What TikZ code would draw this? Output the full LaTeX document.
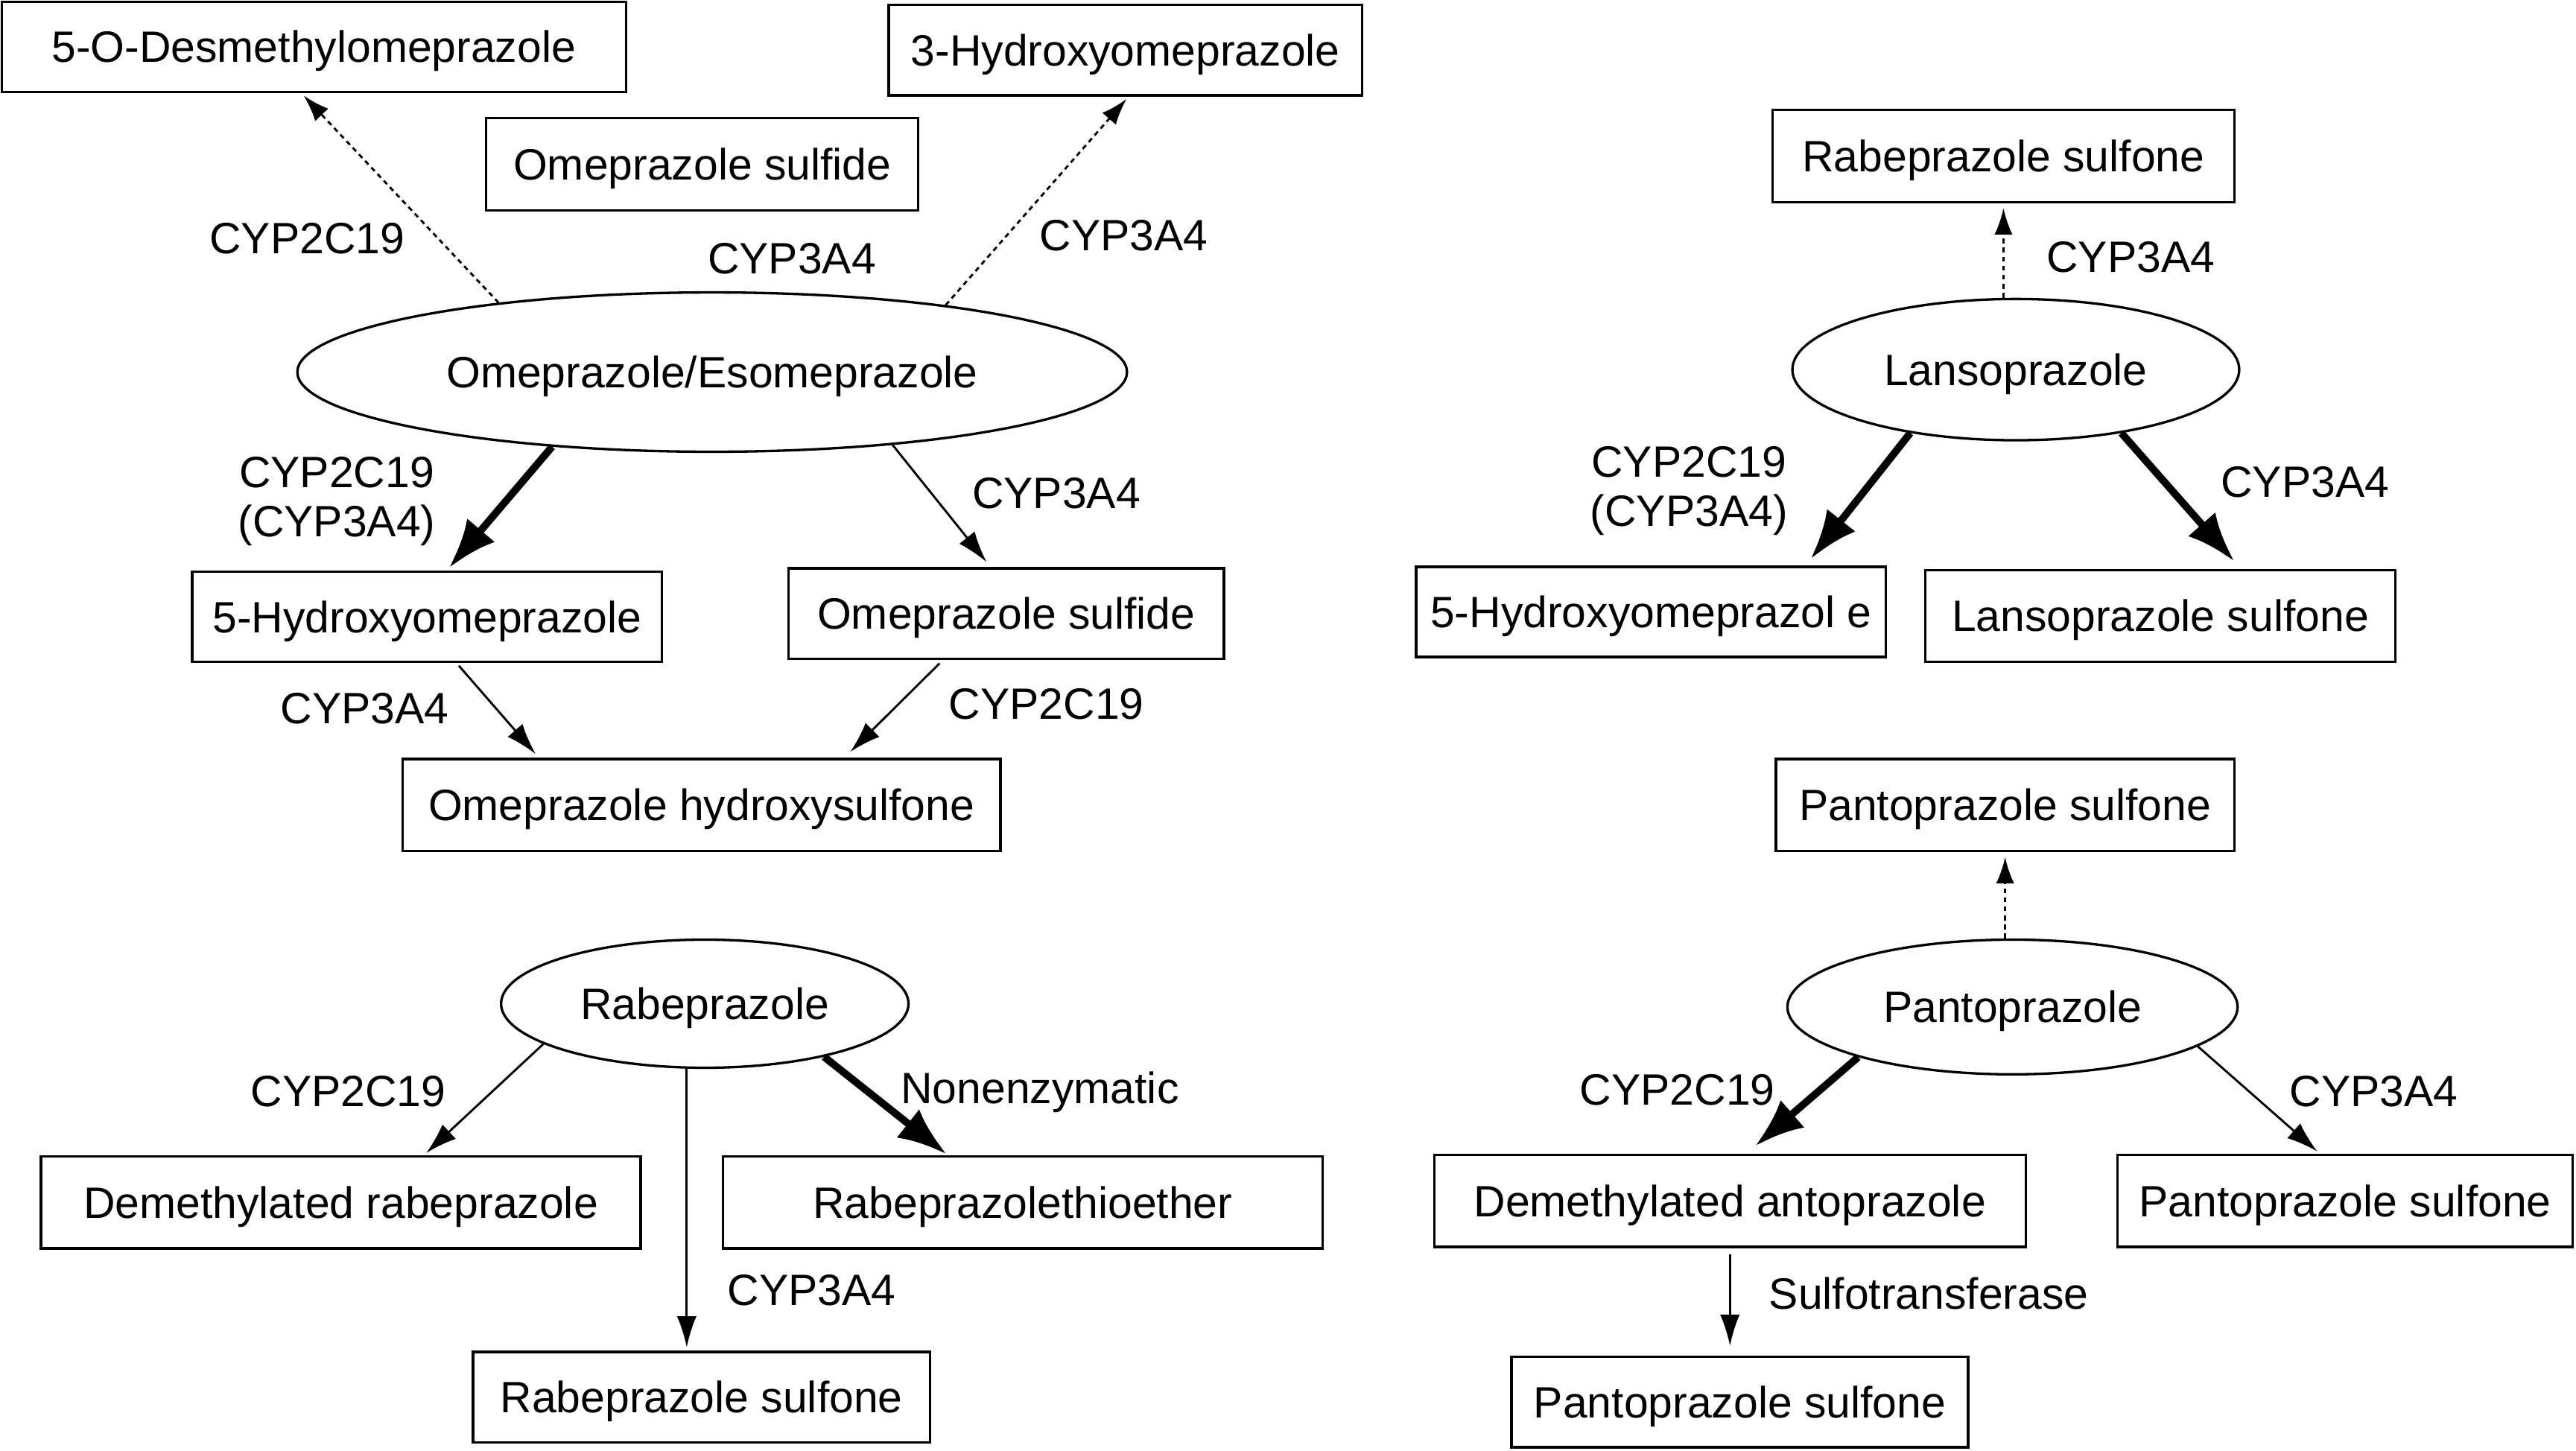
\documentclass[tikz,border=0pt]{standalone}
\usepackage{fontspec}
\setmainfont{Liberation Sans}
\usetikzlibrary{arrows.meta,shapes.geometric,calc}
\begin{document}
\begin{tikzpicture}[x=1pt,y=-1pt,
  box/.style={draw,line width=1.5pt,inner sep=0pt,minimum height=55pt,text height=19pt,text depth=0pt},
  oval/.style={draw,ellipse,line width=1.5pt,inner sep=0pt,text height=19pt,text depth=0pt},
  lbl/.style={inner sep=0pt,align=center},
  thinarr/.style={line width=1.3pt,-{Latex[length=19pt,width=12pt]}},
  thickarr/.style={line width=4.5pt,-{Latex[length=30pt,width=22pt]}},
  dotarr/.style={line width=1.3pt,dash pattern=on 3pt off 2.5pt,-{Latex[length=16pt,width=11pt]}},
  font=\fontsize{26.7}{30}\selectfont]
\useasboundingbox[fill=white] (0,0) rectangle (1568,883);

% ---- Omeprazole ----
\node[box,minimum width=380pt] (A) at (191,28.5) {5-O-Desmethylomeprazole};
\node[box,minimum width=288pt] (B) at (685,30.5) {3-Hydroxyomeprazole};
\node[box,minimum width=263pt,minimum height=56pt] (C) at (427.5,100) {Omeprazole sulfide};
\node[oval,minimum width=505pt,minimum height=97pt] (omep) at (433.5,226.5) {Omeprazole/Esomeprazole};
\node[box,minimum width=286pt] (D) at (260,375.5) {5-Hydroxyomeprazole};
\node[box,minimum width=265pt] (E) at (612.5,373.5) {Omeprazole sulfide};
\node[box,minimum width=364pt,minimum height=56pt] (F) at (427,490) {Omeprazole hydroxysulfone};

\node[lbl] (l1) at (187,145) {CYP2C19};
\node[lbl] (l2) at (482,157.5) {CYP3A4};
\node[lbl] (l3) at (684,143.5) {CYP3A4};
\node[lbl] (l4) at (205,305) {CYP2C19\\(CYP3A4)};
\node[lbl] (l5) at (643,300.5) {CYP3A4};
\node[lbl] (l6) at (222,431.5) {CYP3A4};
\node[lbl] (l7) at (637,428.5) {CYP2C19};

\draw[dotarr,shorten >=2pt] (omep.162.2) -- ([xshift=-7.5pt]A.south);
\draw[dotarr,shorten >=2pt] (omep.16.6) -- ([xshift=2pt]B.south);
\draw[thickarr,shorten >=2pt] (omep.205) -- ([xshift=12pt]D.north);
\draw[thinarr,shorten >=4pt] (omep.338.7) -- ([xshift=-9.5pt]E.north);
\draw[thinarr,shorten <=2pt,shorten >=3pt] ([xshift=18pt]D.south) -- ([xshift=-99pt]F.north);
\draw[thinarr,shorten <=3pt,shorten >=5pt] ([xshift=-38.5pt]E.south) -- ([xshift=87pt]F.north);

% ---- Rabeprazole ----
\node[oval,minimum width=248pt,minimum height=78pt] (rab) at (429,611) {Rabeprazole};
\node[box,minimum width=365pt,minimum height=56pt] (G) at (207.5,732) {Demethylated rabeprazole};
\node[box,minimum width=365pt,minimum height=56pt] (H) at (622.5,732) {Rabeprazolethioether};
\node[box,minimum width=278pt] (I) at (427,850.5) {Rabeprazole sulfone};

\node[lbl] (l8) at (212,664.5) {CYP2C19};
\node[lbl] (l9) at (633,665) {Nonenzymatic};
\node[lbl] (l10) at (494,785.5) {CYP3A4};

\draw[thinarr,shorten >=2pt] (rab.194) -- ([xshift=50.5pt]G.north);
\draw[thickarr,shorten >=1pt] (rab.336) -- ([xshift=-45.5pt]H.north);
\draw[thinarr,shorten >=2pt] ([xshift=-11pt]rab.south) -- ([xshift=-9pt]I.north);

% ---- Lansoprazole ----
\node[box,minimum width=281pt,minimum height=56pt] (J) at (1219.5,95) {Rabeprazole sulfone};
\node[oval,minimum width=272pt,minimum height=86pt] (lanso) at (1227,225) {Lansoprazole};
\node[box,minimum width=286pt] (K) at (1005,372.5) {5-Hydroxyomeprazol e};
\node[box,minimum width=286pt,minimum height=56pt] (L) at (1315,375) {Lansoprazole sulfone};

\node[lbl] (l11) at (1297,156.5) {CYP3A4};
\node[lbl] (l12) at (1028,299) {CYP2C19\\(CYP3A4)};
\node[lbl] (l13) at (1403,293.5) {CYP3A4};

\draw[dotarr,shorten >=3pt] (lanso.north -| J.south) -- (J.south);
\draw[thickarr,shorten >=5pt] (lanso.211.7) -- ([xshift=94pt]K.north);
\draw[thickarr,shorten >=6pt] (lanso.329.8) -- ([xshift=49pt]L.north);

% ---- Pantoprazole ----
\node[box,minimum width=279pt,minimum height=56pt] (M) at (1220.5,490) {Pantoprazole sulfone};
\node[oval,minimum width=274pt,minimum height=82pt] (panto) at (1225,613) {Pantoprazole};
\node[box,minimum width=360pt,minimum height=56pt] (N) at (1053,731) {Demethylated antoprazole};
\node[box,minimum width=277pt,minimum height=56pt] (O) at (1427.5,731) {Pantoprazole sulfone};
\node[box,minimum width=278pt] (P) at (1059,853.5) {Pantoprazole sulfone};

\node[lbl] (l14) at (1021,663.5) {CYP2C19};
\node[lbl] (l15) at (1445,664.5) {CYP3A4};
\node[lbl] (l16) at (1174,787.5) {Sulfotransferase};

\draw[dotarr,shorten >=3pt] (panto.north -| M.south) -- (M.south);
\draw[thickarr,shorten >=7pt] (panto.198) -- ([xshift=10pt]N.north);
\draw[thinarr,shorten >=2pt] (panto.348) -- ([xshift=-15.5pt]O.north);
\draw[thinarr,shorten <=4pt,shorten >=6pt] (N.south) -- (N.south |- P.north);
\end{tikzpicture}
\end{document}
